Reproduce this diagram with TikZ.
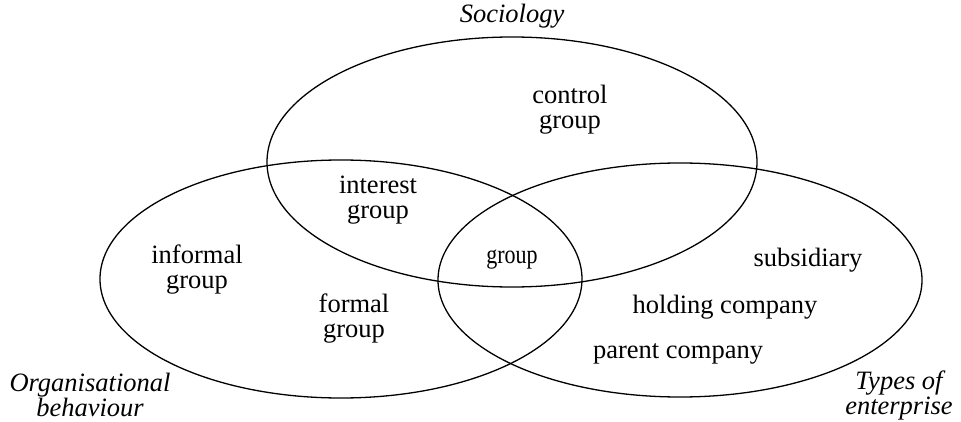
\documentclass[tikz,border=0pt]{standalone}
\usepackage{fontspec}
\setmainfont{Liberation Serif}
\begin{document}
\begin{tikzpicture}[x=1pt,y=-1pt,
  ring/.style={draw=black,line width=1.3pt},
  lbl/.style={align=center,font=\fontsize{26.5}{25}\selectfont,inner sep=0pt},
  ttl/.style={align=center,font=\fontsize{26.5}{25}\selectfont\itshape,inner sep=0pt}]
\useasboundingbox (0,0) rectangle (961,422);
% ellipses
\draw[ring] (512,162) ellipse [x radius=245, y radius=125];
\draw[ring] (341,279) ellipse [x radius=241, y radius=119];
\draw[ring] (680,280) ellipse [x radius=242, y radius=117];
% titles
\node[ttl] (soc) at (512,16) {Sociology};
\node[ttl] (org) at (90,395) {Organisational\\behaviour};
\node[ttl] (typ) at (899,395) {Types of\\enterprise};
% labels
\node[lbl] (control) at (570,110) {control\\group};
\node[lbl] (interest) at (378,200) {interest\\group};
\node[lbl] (group) at (512,260) {\scalebox{0.83}[1]{group}};
\node[lbl] (informal) at (197,270) {informal\\group};
\node[lbl] (formal) at (354,319) {formal\\group};
\node[lbl] (subsid) at (808,260) {subsidiary};
\node[lbl] (holding) at (725,307) {holding company};
\node[lbl] (parent) at (678,354) {parent company};
\end{tikzpicture}
\end{document}
